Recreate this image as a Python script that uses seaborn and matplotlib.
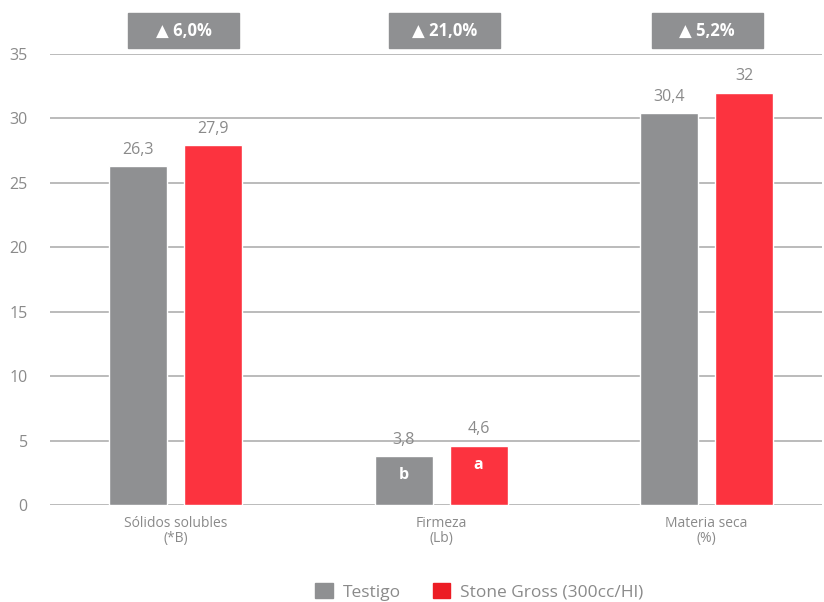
import matplotlib.pyplot as plt
import pandas as pd
import seaborn as sns
from matplotlib.patches import Patch, Rectangle
from matplotlib.transforms import blended_transform_factory

categories = ["Sólidos solubles\n(*B)", "Firmeza\n(Lb)", "Materia seca\n(%)"]
series = ["Testigo", "Stone Gross (300cc/Hl)"]
testigo = [26.3, 3.8, 30.4]
stone_gross = [27.9, 4.6, 32]
value_labels = [["26,3", "3,8", "30,4"], ["27,9", "4,6", "32"]]
letters = [["", "b", ""], ["", "a", ""]]
increments = ["▲ 6,0%", "▲ 21,0%", "▲ 5,2%"]
y_ticks = [0, 5, 10, 15, 20, 25, 30, 35]

GREY = "#8f9092"
RED = "#fc333f"
LEGEND_RED = "#ec1c24"
TEXT = "#8a8a8a"
BOX_SHIFT = [0.03, 0.013, 0.002]  # boxes sit a bit right of the group centre


def main():
    sns.set_style("white")
    plt.rcParams["font.family"] = ["Open Sans", "DejaVu Sans"]

    df = pd.DataFrame({
        "categoria": categories * 2,
        "serie": [series[0]] * 3 + [series[1]] * 3,
        "valor": testigo + stone_gross,
    })

    fig = plt.figure(figsize=(8.24, 6.02), dpi=100)
    ax = fig.add_axes([50 / 824, 1 - 505 / 602, 772 / 824, 451 / 602])

    sns.barplot(
        data=df, x="categoria", y="valor", hue="serie",
        palette=[GREY, RED], width=0.565, gap=0.227,
        saturation=1, legend=False, ax=ax, zorder=3,
    )

    ax.set_ylim(0, 35)
    ax.set_xlim(-0.473, 2.435)
    ax.set_yticks(y_ticks)
    ax.grid(axis="y", color="#a8a8a8", linewidth=1.1, zorder=0)
    sns.despine(ax=ax, left=True, bottom=True, top=True, right=True)
    ax.tick_params(axis="y", length=0, pad=16, labelsize=11.5, labelcolor=TEXT)
    ax.tick_params(axis="x", length=0, pad=8, labelsize=10, labelcolor=TEXT)
    for lbl in ax.get_xticklabels():
        lbl.set_linespacing(1.0)
    ax.set_xlabel("")
    ax.set_ylabel("")

    for container, labels, lets in zip(ax.containers, value_labels, letters):
        ax.bar_label(container, labels=labels, padding=6,
                     fontsize=11.5, color=TEXT)
        for bar, let in zip(container, lets):
            if let:
                ax.annotate(let, (bar.get_x() + bar.get_width() / 2, bar.get_height()),
                            xytext=(0, -8), textcoords="offset points",
                            ha="center", va="top", color="white",
                            fontsize=11.5, fontweight="bold")

    # increment boxes above each group
    trans = blended_transform_factory(ax.transData, ax.transAxes)
    for i, txt in enumerate(increments):
        cx = i + BOX_SHIFT[i]
        ax.add_patch(Rectangle((cx - 0.209, 1.0122), 0.418, 0.0798,
                               transform=trans, color=GREY, clip_on=False))
        ax.text(cx, 1.052, txt, transform=trans, ha="center", va="center",
                color="white", fontsize=12, fontweight="bold")

    handles = [Patch(color=GREY, label=series[0]),
               Patch(color=LEGEND_RED, label=series[1])]
    fig.legend(handles=handles, loc="center", bbox_to_anchor=(0.582, 0.017),
               ncol=2, frameon=False, fontsize=12.5, labelcolor=TEXT,
               handlelength=1.0, handleheight=1.0, columnspacing=1.8,
               handletextpad=0.6)

    fig.savefig("out.png", dpi=100)


if __name__ == "__main__":
    main()
